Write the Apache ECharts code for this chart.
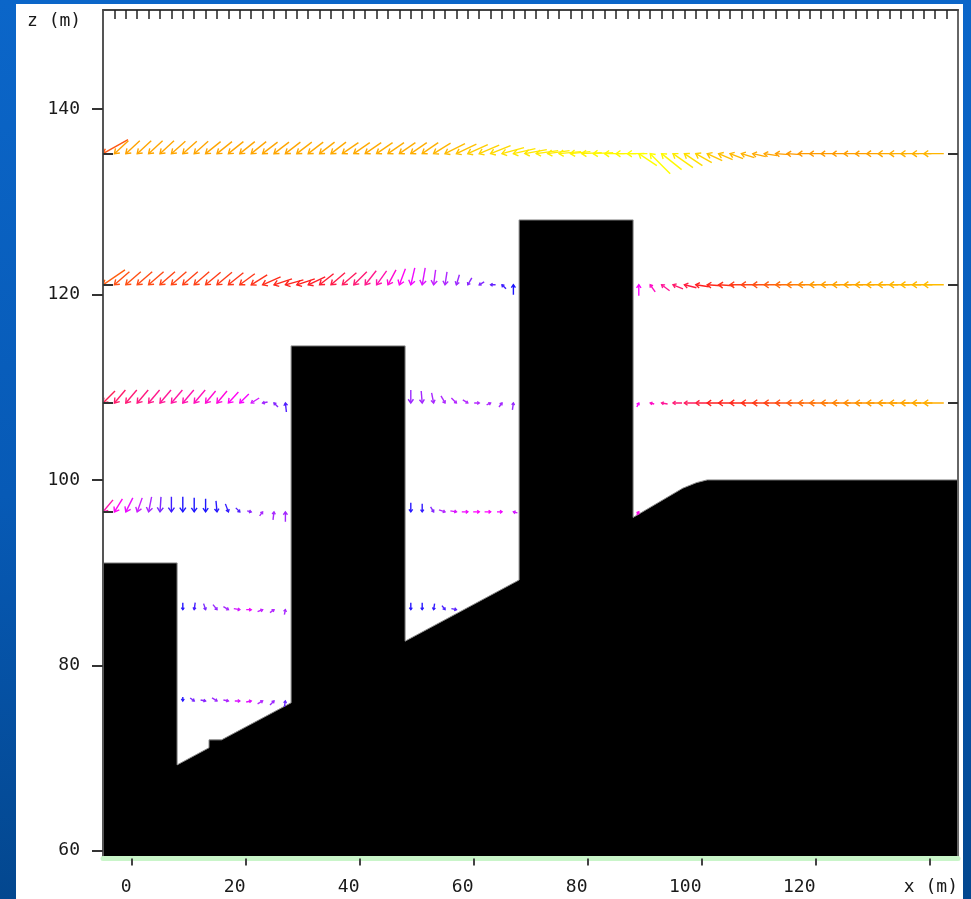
<!DOCTYPE html>
<html>
<head>
<meta charset="utf-8">
<title>Wind vectors over terrain</title>
<script src="https://cdn.jsdelivr.net/npm/echarts@6/dist/echarts.min.js"></script>
<style>
  html, body { margin: 0; padding: 0; width: 971px; height: 899px; overflow: hidden;
    background: linear-gradient(180deg, #0b66c9 0%, #075ab6 55%, #03478f 100%); }
  #panel { position: absolute; left: 16px; top: 4px; width: 947px; height: 895px; background: #ffffff; }
  #chart { position: absolute; left: 0; top: 0; width: 971px; height: 899px; }
</style>
</head>
<body>
<div id="panel"></div>
<div id="chart"></div>
<script>
// Section x–z: wind vectors (u, w) along six sampling heights over the building / slope profile.
// Each vector entry: [x (m), u (m/s), w (m/s), speed]  — the arrow head sits on the sample point.

const rowZ = [135.2, 121.05, 108.3, 96.55, 86.0, 76.15];

const row1 = [
  [-5, -5.0, -2.8, 6.1], [-3, -2.8, -2.6, 7.2], [-1, -2.8, -2.6, 7.2], [1, -2.8, -2.6, 7.3],
  [3, -2.8, -2.6, 7.3], [5, -2.8, -2.6, 7.3], [7, -2.8, -2.5, 7.3], [9, -2.8, -2.5, 7.3],
  [11, -2.8, -2.5, 7.3], [13, -3.0, -2.4, 7.3], [15, -3.0, -2.4, 7.3], [17, -3.0, -2.4, 7.3],
  [19, -3.0, -2.4, 7.3], [21, -3.0, -2.4, 7.3], [23, -3.0, -2.3, 7.3], [25, -3.0, -2.3, 7.3],
  [27, -3.0, -2.3, 7.3], [29, -3.0, -2.3, 7.4], [31, -3.0, -2.3, 7.4], [33, -3.0, -2.3, 7.4],
  [35, -3.0, -2.3, 7.4], [37, -3.2, -2.2, 7.4], [39, -3.2, -2.2, 7.4], [41, -3.2, -2.2, 7.4],
  [43, -3.2, -2.2, 7.5], [45, -3.2, -2.2, 7.5], [47, -3.2, -2.2, 7.5], [49, -3.2, -2.2, 7.5],
  [51, -3.2, -2.2, 7.6], [53, -3.4, -2.1, 7.7], [55, -4.0, -2.0, 7.9], [57, -4.0, -1.9, 8.0],
  [59, -4.0, -1.8, 8.2], [61, -4.0, -1.7, 8.3], [63, -4.0, -1.6, 8.4], [65, -4.4, -1.2, 8.5],
  [67, -4.4, -1.0, 8.6], [69, -4.4, -0.8, 8.6], [71, -4.4, -0.6, 8.7], [73, -4.4, -0.6, 8.7],
  [75, -4.4, -0.4, 8.8], [77, -4.0, -0.4, 8.8], [79, -4.0, -0.2, 8.8], [81, -4.0, -0.2, 8.9],
  [83, -4.0, 0.0, 8.9], [85, -4.0, 0.0, 8.9], [87, -4.0, 0.0, 9.0], [89, -3.6, 2.4, 9.0],
  [91, -4.0, 4.0, 9.0], [93, -4.0, 3.2, 8.9], [95, -4.0, 2.8, 8.7], [97, -3.6, 2.4, 8.5],
  [99, -3.2, 1.8, 8.3], [101, -3.0, 1.4, 8.1], [103, -2.8, 1.2, 8.0], [105, -2.6, 1.0, 7.8],
  [107, -2.6, 0.8, 7.6], [109, -2.6, 0.6, 7.4], [111, -2.6, 0.4, 7.3], [113, -2.8, 0.2, 7.1],
  [115, -2.8, 0.2, 7.0], [117, -2.8, 0.0, 7.0], [119, -2.8, 0.0, 7.0], [121, -2.8, 0.0, 7.0],
  [123, -2.8, 0.0, 7.0], [125, -2.8, 0.0, 7.1], [127, -2.8, 0.0, 7.1], [129, -3.0, 0.0, 7.2],
  [131, -3.2, 0.0, 7.4], [133, -3.4, 0.0, 7.5], [135, -3.6, 0.0, 7.6], [137, -3.8, 0.0, 7.6],
  [139, -4.0, 0.0, 7.7]
];

const row2 = [
  [-5, -4.4, -3.0, 6.2], [-3, -3.0, -2.6, 6.0], [-1, -3.0, -2.6, 6.0], [1, -3.0, -2.6, 5.9],
  [3, -3.0, -2.6, 5.9], [5, -3.0, -2.6, 5.8], [7, -3.0, -2.6, 5.8], [9, -3.0, -2.6, 5.7],
  [11, -3.0, -2.6, 5.7], [13, -3.0, -2.5, 5.6], [15, -3.0, -2.5, 5.6], [17, -3.0, -2.4, 5.5],
  [19, -3.0, -2.2, 5.5], [21, -3.2, -2.0, 5.4], [23, -3.6, -1.6, 5.3], [25, -3.6, -1.2, 5.2],
  [27, -3.6, -1.0, 5.1], [29, -3.6, -1.2, 5.0], [31, -3.4, -1.6, 4.9], [33, -2.8, -2.2, 4.8],
  [35, -2.8, -2.4, 4.6], [37, -2.8, -2.4, 4.4], [39, -2.6, -2.6, 4.2], [41, -2.2, -2.8, 4.0],
  [43, -2.0, -2.8, 3.7], [45, -1.6, -3.0, 3.4], [47, -1.2, -3.2, 3.1], [49, -0.8, -3.4, 2.8],
  [51, -0.6, -3.4, 2.5], [53, -0.4, -3.0, 2.2], [55, -0.4, -2.6, 1.9], [57, -0.6, -2.0, 1.6],
  [59, -0.8, -1.4, 1.3], [61, -1.0, -0.6, 1.1], [63, -1.0, 0.0, 0.8], [65, -0.8, 0.8, 0.4],
  [67, 0.0, 2.0, 0.1],
  [89, 0.0, 2.2, 3.0], [91, -1.0, 1.4, 3.5], [93, -1.6, 1.2, 3.9], [95, -2.0, 0.8, 4.3],
  [97, -2.4, 0.6, 4.7], [99, -2.6, 0.4, 5.0], [101, -2.8, 0.2, 5.2], [103, -3.0, 0.2, 5.4],
  [105, -3.0, 0.0, 5.6], [107, -3.2, 0.0, 5.8], [109, -3.2, 0.0, 6.0], [111, -3.4, 0.0, 6.2],
  [113, -3.4, 0.0, 6.4], [115, -3.6, 0.0, 6.6], [117, -3.6, 0.0, 6.8], [119, -3.6, 0.0, 7.0],
  [121, -3.8, 0.0, 7.1], [123, -3.8, 0.0, 7.2], [125, -3.8, 0.0, 7.3], [127, -3.8, 0.0, 7.4],
  [129, -3.8, 0.0, 7.5], [131, -4.0, 0.0, 7.6], [133, -4.0, 0.0, 7.7], [135, -4.0, 0.0, 7.8],
  [137, -4.0, 0.0, 7.8], [139, -4.0, 0.0, 7.9]
];

const row3 = [
  [-5, -2.4, -2.4, 4.5], [-3, -2.2, -2.6, 4.3], [-1, -2.2, -2.6, 4.2], [1, -2.2, -2.6, 4.1],
  [3, -2.2, -2.6, 4.0], [5, -2.2, -2.6, 3.9], [7, -2.2, -2.6, 3.8], [9, -2.2, -2.6, 3.7],
  [11, -2.2, -2.6, 3.6], [13, -2.0, -2.4, 3.4], [15, -2.0, -2.4, 3.3], [17, -2.0, -2.2, 3.1],
  [19, -1.8, -1.8, 2.9], [21, -1.6, -1.0, 2.4], [23, -1.0, -0.2, 1.7], [25, -0.8, 0.8, 1.2],
  [27, -0.2, 1.8, 0.6],
  [49, 0.0, -2.6, 1.6], [51, 0.2, -2.4, 1.7], [53, 0.4, -2.0, 1.8], [55, 0.8, -1.4, 1.9],
  [57, 1.0, -1.0, 2.0], [59, 1.0, -0.6, 2.0], [61, 1.0, 0.0, 2.0], [63, 0.8, 0.4, 1.9],
  [65, 0.6, 0.8, 1.7], [67, 0.2, 1.4, 1.5],
  [89, 0.4, 0.8, 3.0], [91, -0.8, 0.2, 3.5], [93, -1.2, 0.2, 3.9], [95, -1.8, 0.0, 4.2],
  [97, -2.2, 0.0, 4.4], [99, -2.6, 0.0, 4.7], [101, -2.8, 0.0, 5.0], [103, -3.0, 0.0, 5.1],
  [105, -3.0, 0.0, 5.2], [107, -3.2, 0.0, 5.4], [109, -3.2, 0.0, 5.6], [111, -3.2, 0.0, 5.8],
  [113, -3.4, 0.0, 6.0], [115, -3.4, 0.0, 6.2], [117, -3.4, 0.0, 6.4], [119, -3.6, 0.0, 6.5],
  [121, -3.6, 0.0, 6.6], [123, -3.6, 0.0, 6.7], [125, -3.6, 0.0, 6.8], [127, -3.8, 0.0, 6.9],
  [129, -3.8, 0.0, 7.0], [131, -3.8, 0.0, 7.1], [133, -4.0, 0.0, 7.2], [135, -4.0, 0.0, 7.3],
  [137, -4.0, 0.0, 7.4], [139, -4.0, 0.0, 7.5]
];

const row4 = [
  [-5, -2.0, -2.4, 3.7], [-3, -1.6, -2.6, 3.1], [-1, -1.4, -2.8, 2.7], [1, -1.0, -2.8, 2.3],
  [3, -0.6, -3.0, 1.8], [5, -0.2, -3.0, 1.0], [7, 0.0, -3.0, 0.4], [9, 0.0, -3.0, 0.1],
  [11, 0.0, -2.8, 0.1], [13, 0.0, -2.6, 0.1], [15, 0.2, -2.2, 0.2], [17, 0.6, -1.6, 0.3],
  [19, 0.8, -0.8, 0.6], [21, 0.8, -0.2, 1.4], [23, 0.6, 0.8, 1.8], [25, 0.2, 1.6, 1.8],
  [27, 0.0, 2.0, 1.7],
  [49, 0.0, -1.8, 0.2], [51, 0.0, -1.6, 0.3], [53, 0.6, -1.0, 1.2], [55, 1.2, -0.4, 2.0],
  [57, 1.2, -0.2, 2.5], [59, 1.2, 0.0, 2.8], [61, 1.2, 0.0, 3.0], [63, 1.2, 0.0, 3.0],
  [65, 1.0, 0.0, 2.8], [67, -0.8, 0.2, 2.4],
  [89, 0.4, 0.6, 3.2]
];

const row5 = [
  [9, 0.0, -1.4, 0.2], [11, -0.2, -1.4, 0.5], [13, 0.4, -1.2, 1.0], [15, 0.8, -1.0, 1.5],
  [17, 1.0, -0.6, 1.8], [19, 1.2, -0.2, 2.4], [21, 1.0, 0.0, 2.8], [23, 1.0, 0.4, 2.2],
  [25, 0.8, 0.6, 2.0], [27, 0.2, 1.0, 1.8],
  [49, 0.0, -1.4, 0.2], [51, 0.0, -1.4, 0.2], [53, -0.2, -1.2, 0.3], [55, 0.6, -0.8, 0.5],
  [57, 1.0, -0.2, 0.7]
];

const row6 = [
  [9, 0.0, -0.8, 0.2], [11, 0.8, -0.6, 1.0], [13, 1.0, -0.2, 1.3], [15, 1.0, -0.6, 1.6],
  [17, 1.0, -0.2, 1.9], [19, 1.0, 0.0, 2.5], [21, 1.0, 0.2, 2.6], [23, 1.0, 0.6, 2.0],
  [25, 0.8, 0.8, 1.6], [27, 0.2, 1.2, 0.8]
];

// Ground / building outline (x, z in m)
const terrainX = [-5, 8, 8, 13.6, 13.6, 15.8, 28, 28, 48, 48, 68, 68, 88, 88, 96.7, 99.1, 101, 145];
const terrainZ = [91.04, 91.04, 69.25, 71.1, 71.95, 71.95, 75.95, 114.46, 114.46, 82.6, 89.2,
                  128.05, 128.05, 95.95, 99.1, 99.7, 100.0, 100.0];

// Axis ticks and labels
const xTicks = [0, 20, 40, 60, 80, 100, 120, 140];
const xLabels = [0, 20, 40, 60, 80, 100, 120];
const gridTicks = [];
for (let g = -3; g <= 143; g += 2) gridTicks.push(g);
const zTicks = [60, 80, 100, 120, 140];

const X_MIN = -5, X_MAX = 145;
const Z_MIN = 59.15, Z_MAX = 150.7;
const PX_PER_MS = 5;          // arrow length scale, pixels per m/s
const SPEED_COLORS = ['#1414ff', '#7a28ff', '#b428ff', '#ff00ff', '#ff1a8c',
                      '#ff1e1e', '#ff5014', '#ff9a00', '#ffc000', '#ffff00'];

const vectorData = [];
[row1, row2, row3, row4, row5, row6].forEach(function (row, i) {
  row.forEach(function (p) { vectorData.push([p[0], rowZ[i], p[1], p[2], p[3]]); });
});
const terrainData = terrainX.map(function (x, i) { return [x, terrainZ[i]]; });

function renderArrow(params, api) {
  const head = api.coord([api.value(0), api.value(1)]);
  const u = api.value(2), w = api.value(3);
  const tail = [head[0] - u * PX_PER_MS, head[1] + w * PX_PER_MS];
  const dx = head[0] - tail[0], dy = head[1] - tail[1];
  const len = Math.hypot(dx, dy);
  if (len < 0.3) return null;
  const bx = -dx / len, by = -dy / len;
  const wing = Math.max(2.5, Math.min(5.5, len * 0.35));
  const ca = Math.cos(0.62), sa = Math.sin(0.62);
  const w1 = [head[0] + wing * (bx * ca - by * sa), head[1] + wing * (bx * sa + by * ca)];
  const w2 = [head[0] + wing * (bx * ca + by * sa), head[1] + wing * (-bx * sa + by * ca)];
  const color = api.visual('color');
  return {
    type: 'group',
    children: [
      { type: 'polyline', shape: { points: [tail, head] }, style: { stroke: color, lineWidth: 1.4, fill: null } },
      { type: 'polyline', shape: { points: [w1, head, w2] }, style: { stroke: color, lineWidth: 1.4, fill: null } }
    ]
  };
}

const labelFont = { color: '#1a1a1a', fontFamily: '"DejaVu Sans Mono", monospace', fontSize: 18 };

const chart = echarts.init(document.getElementById('chart'), null, { renderer: 'canvas' });
chart.setOption({
  animation: false,
  backgroundColor: 'transparent',
  grid: { left: 103, right: 13, top: 10, bottom: 40.5, containLabel: false, outerBoundsMode: 'none' },
  xAxis: [
    {
      type: 'value', position: 'bottom', min: X_MIN, max: X_MAX, z: 5,
      axisLine: { show: true, onZero: false, lineStyle: { color: '#c9f5c9', width: 5 } },
      axisTick: { show: true, inside: false, length: 7, customValues: xTicks, lineStyle: { color: '#444', width: 2 } },
      axisLabel: Object.assign({ show: true, customValues: xLabels, align: 'right', margin: 20 }, labelFont),
      splitLine: { show: false }
    },
    {
      type: 'value', position: 'top', min: X_MIN, max: X_MAX, z: 5,
      axisLine: { show: true, onZero: false, lineStyle: { color: '#444', width: 2 } },
      axisTick: { show: true, inside: true, length: 9, customValues: gridTicks, lineStyle: { color: '#222', width: 1.5 } },
      axisLabel: { show: false },
      splitLine: { show: false }
    }
  ],
  yAxis: [
    {
      type: 'value', position: 'left', min: Z_MIN, max: Z_MAX, z: 5,
      axisLine: { show: true, onZero: false, lineStyle: { color: '#555', width: 2 } },
      axisTick: { show: true, inside: false, length: 11, customValues: zTicks, lineStyle: { color: '#333', width: 2 } },
      axisLabel: Object.assign({ show: true, customValues: zTicks, margin: 23 }, labelFont),
      splitLine: { show: false }
    },
    {
      type: 'value', position: 'right', min: Z_MIN, max: Z_MAX, z: 5,
      axisLine: { show: true, onZero: false, lineStyle: { color: '#666', width: 2 } },
      axisTick: { show: true, inside: true, length: 10, customValues: rowZ.slice(0, 3), lineStyle: { color: '#333', width: 2 } },
      axisLabel: { show: false },
      splitLine: { show: false }
    },
    {
      type: 'value', position: 'left', min: Z_MIN, max: Z_MAX, z: 5,
      axisLine: { show: false, onZero: false },
      axisTick: { show: true, inside: true, length: 10, customValues: rowZ.slice(0, 4), lineStyle: { color: '#333', width: 2 } },
      axisLabel: { show: false },
      splitLine: { show: false }
    }
  ],
  visualMap: {
    type: 'continuous', show: false, seriesIndex: 1, dimension: 4,
    min: 0, max: 9, inRange: { color: SPEED_COLORS }
  },
  graphic: [
    { type: 'text', x: 27, y: 12, style: { text: 'z (m)', font: '18px "DejaVu Sans Mono", monospace', fill: '#1a1a1a' } },
    { type: 'text', x: 958, y: 878, style: { text: 'x (m)', font: '18px "DejaVu Sans Mono", monospace', fill: '#1a1a1a', align: 'right' } }
  ],
  series: [
    {
      name: 'terrain', type: 'line', data: terrainData, xAxisIndex: 0, yAxisIndex: 0,
      showSymbol: false, symbol: 'none', silent: true, z: 2,
      lineStyle: { color: '#8c8c8c', width: 1 },
      areaStyle: { color: '#000000', opacity: 1, origin: 'start' }
    },
    {
      name: 'wind', type: 'custom', data: vectorData, xAxisIndex: 0, yAxisIndex: 0,
      dimensions: ['x', 'z', 'u', 'w', 'speed'],
      encode: { x: 0, y: 1 }, renderItem: renderArrow, silent: true, z: 3, clip: true
    }
  ]
});
</script>
</body>
</html>
